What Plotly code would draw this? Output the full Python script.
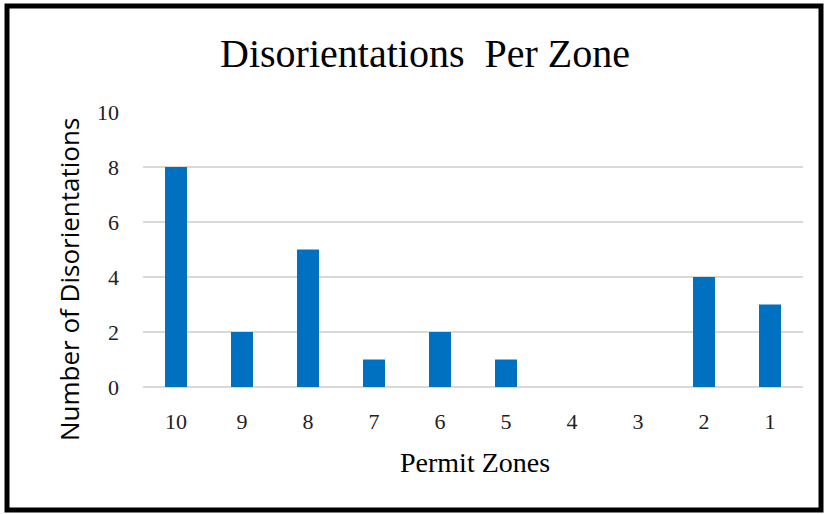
import plotly.graph_objects as go

zones = ["10", "9", "8", "7", "6", "5", "4", "3", "2", "1"]
counts = [8, 2, 5, 1, 2, 1, 0, 0, 4, 3]
y_ticks = [0, 2, 4, 6, 8, 10]

L, R, T, B = 143, 22, 112, 127
W, H = 825, 514
pw, ph = W - L - R, H - T - B

def px_x(p):
    return (p - L) / pw

def px_y(p):
    return (H - B - p) / ph

serif = "Liberation Serif, Times New Roman, serif"
sans = "Open Sans, Liberation Sans, sans-serif"

fig = go.Figure(go.Bar(x=zones, y=counts, marker_color="#0070C0", marker_line_width=0))

fig.update_layout(
    width=W, height=H,
    margin=dict(l=L, r=R, t=T, b=B),
    paper_bgcolor="white", plot_bgcolor="white",
    bargap=0.667,
    showlegend=False,
    title=dict(text="Disorientations\u00a0 Per Zone", x=425 / W, xanchor="center",
               y=1 - 53 / H, yanchor="middle",
               font=dict(family=serif, size=40, color="black")),
    xaxis=dict(type="category", tickfont=dict(family=serif, size=22, color="#222"),
               showgrid=False, showline=False, ticks="", ticklen=0,
               ticklabelstandoff=19),
    yaxis=dict(range=[0, 10], tickvals=y_ticks, tickfont=dict(family=serif, size=22, color="#222"),
               showgrid=True, gridcolor="#d9d9d9", gridwidth=2, zeroline=True,
               zerolinecolor="#d9d9d9", zerolinewidth=2, showline=False, ticks="",
               ticklabelstandoff=23),
    shapes=[dict(type="rect", xref="paper", yref="paper",
                 x0=px_x(7), x1=px_x(821), y0=px_y(510), y1=px_y(6),
                 line=dict(color="black", width=5), fillcolor="rgba(0,0,0,0)")],
    annotations=[
        dict(text="Permit Zones", xref="paper", yref="paper", x=px_x(475), y=px_y(462),
             xanchor="center", yanchor="middle", showarrow=False,
             font=dict(family=serif, size=28, color="black")),
        dict(text="Number of Disorientations", xref="paper", yref="paper", x=px_x(69), y=px_y(280),
             xanchor="center", yanchor="middle", showarrow=False, textangle=-90,
             font=dict(family=sans, size=26, color="black")),
    ],
)

fig.write_html("out.html", config={"displayModeBar": False},
               post_script="document.body.style.margin='0';document.body.style.overflow='hidden';")
